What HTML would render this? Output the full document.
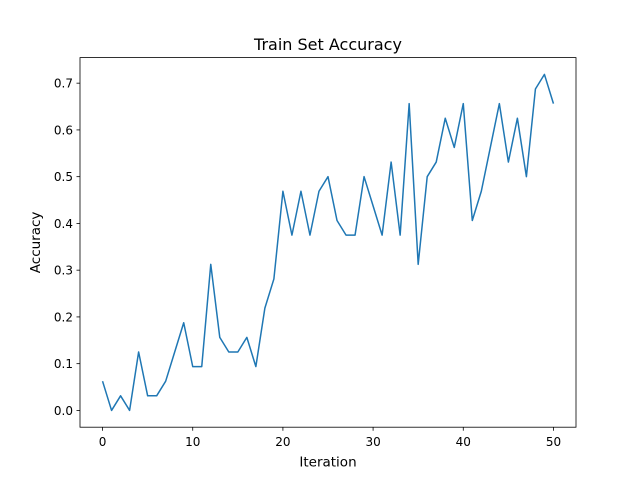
<!DOCTYPE html>
<html><head><meta charset="utf-8"><style>
body{margin:0;background:#fff;}
svg{display:block;font-family:"DejaVu Sans","Liberation Sans",sans-serif;}
</style></head><body>
<svg id="chart" width="640" height="480" viewBox="0 0 640 480">
<rect width="640" height="480" fill="#fff"/>
<text x="328" y="50" text-anchor="middle" font-size="16">Train Set Accuracy</text>
<g id="xticks"></g>
<g id="yticks"></g>
<polyline id="line" fill="none" stroke="#1f77b4" stroke-width="1.5" stroke-linejoin="round"/>
<rect x="80" y="57.6" width="496" height="369.6" fill="none" stroke="#000" stroke-width="0.8"/>
<text x="328" y="466.5" text-anchor="middle" font-size="13.5">Iteration</text>
<text transform="translate(40,242.4) rotate(-90)" text-anchor="middle" font-size="13.5">Accuracy</text>
</svg>
<script>
const iterations = [0,1,2,3,4,5,6,7,8,9,10,11,12,13,14,15,16,17,18,19,20,21,22,23,24,25,26,27,28,29,30,31,32,33,34,35,36,37,38,39,40,41,42,43,44,45,46,47,48,49,50];
const accuracy = [0.0625,0,0.03125,0,0.125,0.03125,0.03125,0.0625,0.125,0.1875,0.09375,0.09375,0.3125,0.15625,0.125,0.125,0.15625,0.09375,0.21875,0.28125,0.46875,0.375,0.46875,0.375,0.46875,0.5,0.40625,0.375,0.375,0.5,0.4375,0.375,0.53125,0.375,0.65625,0.3125,0.5,0.53125,0.625,0.5625,0.65625,0.40625,0.46875,0.5625,0.65625,0.53125,0.625,0.5,0.6875,0.71875,0.65625];
const xTicks = [0,10,20,30,40,50];
const yTicks = [0,0.1,0.2,0.3,0.4,0.5,0.6,0.7];
const yTickLabels = ["0.0","0.1","0.2","0.3","0.4","0.5","0.6","0.7"];
const NS="http://www.w3.org/2000/svg";
const L=80,R=576,T=57.6,B=427.2;
const xmin=-2.5,xmax=52.5;
const ymin=-0.0359,ymax=0.7547;
const xs=v=>L+(v-xmin)/(xmax-xmin)*(R-L);
const ys=v=>B-(v-ymin)/(ymax-ymin)*(B-T);
const line=document.getElementById('line');
line.setAttribute('points',iterations.map((x,i)=>xs(x).toFixed(2)+','+ys(accuracy[i]).toFixed(2)).join(' '));
const xg=document.getElementById('xticks');
xTicks.forEach(t=>{
  const l=document.createElementNS(NS,'line');
  l.setAttribute('x1',xs(t));l.setAttribute('x2',xs(t));l.setAttribute('y1',B);l.setAttribute('y2',B+3.5);
  l.setAttribute('stroke','#000');l.setAttribute('stroke-width','0.8');
  
  
  xg.appendChild(l);
  const tx=document.createElementNS(NS,'text');
  tx.setAttribute('x',xs(t));tx.setAttribute('y',B+19);tx.setAttribute('text-anchor','middle');tx.setAttribute('font-size','12');
  tx.textContent=t;
  
  
  xg.appendChild(tx);
});
const yg=document.getElementById('yticks');
yTicks.forEach((t,i)=>{
  const l=document.createElementNS(NS,'line');
  l.setAttribute('x1',L-3.5);l.setAttribute('x2',L);l.setAttribute('y1',ys(t));l.setAttribute('y2',ys(t));
  l.setAttribute('stroke','#000');l.setAttribute('stroke-width','0.8');
  
  
  yg.appendChild(l);
  const tx=document.createElementNS(NS,'text');
  tx.setAttribute('x',L-7);tx.setAttribute('y',ys(t)+4.5);tx.setAttribute('text-anchor','end');tx.setAttribute('font-size','12');
  tx.textContent=yTickLabels[i];
  
  
  yg.appendChild(tx);
});
</script>
</body></html>
